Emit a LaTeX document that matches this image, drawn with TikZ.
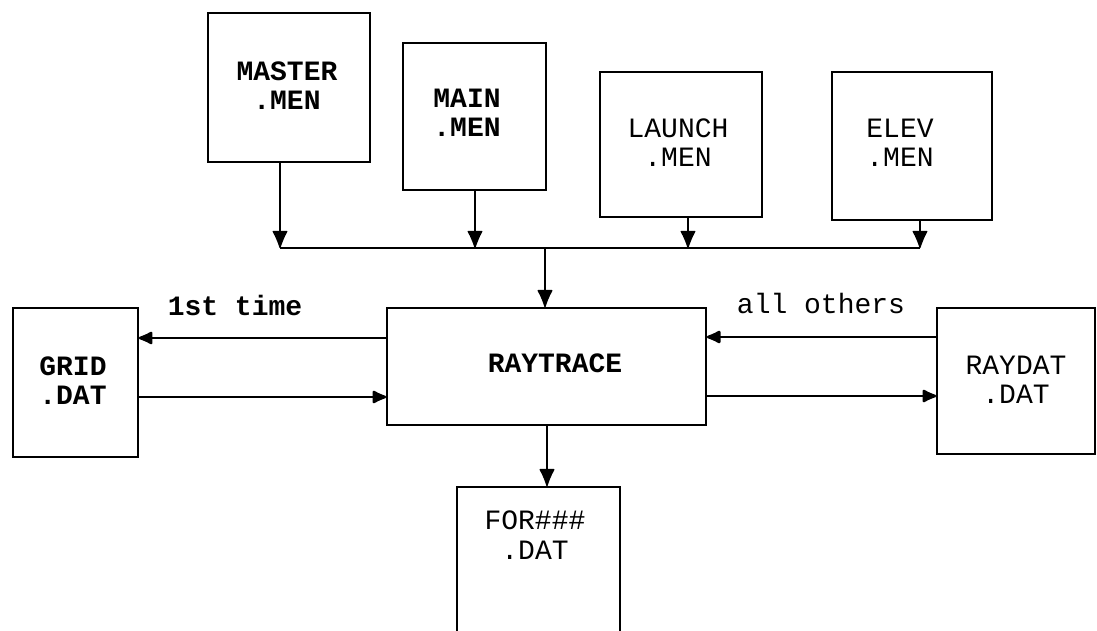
\documentclass[tikz,border=0pt]{standalone}
\usepackage{fontspec}
\setmonofont{Liberation Mono}
\usetikzlibrary{arrows.meta}
\begin{document}
\begin{tikzpicture}[x=1pt,y=-1pt,
  box/.style={draw, line width=1.6pt, inner sep=0pt, rectangle},
  txt/.style={font=\ttfamily\fontsize{28}{29}\selectfont, align=center, inner sep=0pt},
  btxt/.style={font=\ttfamily\bfseries\fontsize{28}{29}\selectfont, align=center, inner sep=0pt},
  conn/.style={line width=1.3pt, -{Latex[length=19pt,width=16pt,round]}},
  hconn/.style={line width=2.6pt, -{Latex[length=17pt,width=15pt,round]}},
  bus/.style={line width=2.8pt}]
\clip (0,0) rectangle (1097,631);
\fill[white] (0,0) rectangle (1097,631);

% boxes
\node[box, minimum width=162pt, minimum height=149pt] (master) at (289,87.5) {};
\node[box, minimum width=143pt, minimum height=147pt] (main) at (474.5,116.5) {};
\node[box, minimum width=162pt, minimum height=145pt] (launch) at (681,144.5) {};
\node[box, minimum width=160pt, minimum height=148pt] (elev) at (912,146) {};
\node[box, minimum width=319pt, minimum height=117pt] (ray) at (546.5,366.5) {};
\node[box, minimum width=125pt, minimum height=149pt] (grid) at (75.5,382.5) {};
\node[box, minimum width=158pt, minimum height=146pt] (raydat) at (1016,381) {};
\node[box, minimum width=163pt, minimum height=170pt] (for) at (538.5,572) {};

% texts
\node[btxt] (tmaster) at (287,86) {MASTER\\.MEN};
\node[btxt] (tmain) at (467,113) {MAIN\\.MEN};
\node[txt] (tlaunch) at (678,143) {LAUNCH\\.MEN};
\node[txt] (telev) at (900,143) {ELEV\\.MEN};
\node[btxt] (tray) at (555,363) {RAYTRACE};
\node[btxt] (tgrid) at (73,381) {GRID\\.DAT};
\node[txt] (traydat) at (1016,380) {RAYDAT\\.DAT};
\node[txt, font=\ttfamily\fontsize{28}{30}\selectfont] (tfor) at (535,535) {FOR\#\#\#\\.DAT};
\node[btxt] (l1) at (235,305) {1st time};
\node[txt] (l2) at (821,303) {all others};

% bus
\coordinate (b1) at (280,248);
\coordinate (b2) at (475,248);
\coordinate (b3) at (688,248);
\coordinate (b4) at (920,248);
\coordinate (b5) at (545,248);
\draw[bus] (b1) -- (b4);

\draw[conn] (b1 |- master.south) -- (b1);
\draw[conn] (b2 |- main.south) -- (b2);
\draw[conn] (b3 |- launch.south) -- (b3);
\draw[conn] (b4 |- elev.south) -- (b4);
\draw[conn] (b5) -- (b5 |- ray.north);

% horizontal connectors
\draw[hconn] (ray.west |- 0,338) -- (grid.east |- 0,338);
\draw[hconn] (grid.east |- 0,397) -- (ray.west |- 0,397);
\draw[hconn] (raydat.west |- 0,337) -- (ray.east |- 0,337);
\draw[hconn] (ray.east |- 0,396) -- (raydat.west |- 0,396);

\draw[conn] (547,0 |- ray.south) -- (547,0 |- for.north);
\end{tikzpicture}
\end{document}
